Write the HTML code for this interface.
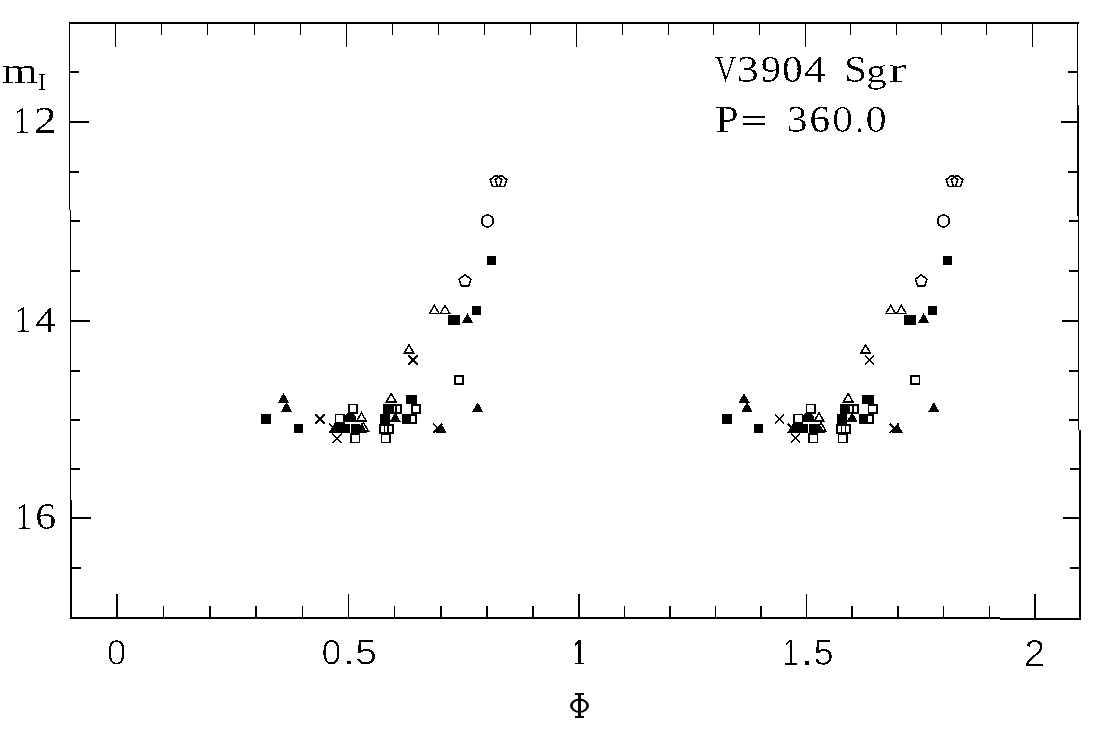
<!DOCTYPE html>
<html><head><meta charset="utf-8"><style>
html,body{margin:0;padding:0;background:#fff;}
svg{display:block;}
text{-webkit-font-smoothing:antialiased;}

.serif{font-family:"Liberation Serif",serif;fill:#000;}
.sans{font-family:"Liberation Sans",sans-serif;fill:#000;}
.o{fill:none;stroke:#000;}
</style></head><body>
<svg width="1110" height="730" viewBox="0 0 1110 730">
<rect width="1110" height="730" fill="#fff"/>
<g fill="#000" shape-rendering="crispEdges">
<rect x="69.00" y="22.00" width="1009.50" height="2.00"/>
<rect x="70.00" y="617.00" width="930.00" height="2.00"/>
<rect x="1000.00" y="617.50" width="81.00" height="2.00"/>
<rect x="69.00" y="22.00" width="1.30" height="188.00"/>
<rect x="69.60" y="210.00" width="1.40" height="290.00"/>
<rect x="70.40" y="500.00" width="1.60" height="119.00"/>
<rect x="1077.00" y="22.00" width="1.40" height="83.00"/>
<rect x="1077.00" y="105.00" width="2.00" height="111.00"/>
<rect x="1077.60" y="216.00" width="1.60" height="214.00"/>
<rect x="1078.60" y="430.00" width="2.20" height="190.00"/>
<rect x="115.00" y="22.00" width="1.10" height="24.70"/>
<rect x="116.40" y="594.00" width="1.60" height="25.00"/>
<rect x="161.00" y="22.00" width="1.10" height="12.80"/>
<rect x="162.68" y="606.00" width="1.60" height="13.00"/>
<rect x="207.00" y="22.00" width="1.10" height="12.80"/>
<rect x="208.96" y="606.00" width="1.60" height="13.00"/>
<rect x="254.00" y="22.00" width="1.10" height="12.80"/>
<rect x="255.24" y="606.00" width="1.60" height="13.00"/>
<rect x="300.00" y="22.00" width="1.10" height="12.80"/>
<rect x="301.52" y="606.00" width="1.60" height="13.00"/>
<rect x="346.00" y="22.00" width="1.10" height="24.70"/>
<rect x="347.80" y="594.00" width="1.60" height="25.00"/>
<rect x="392.00" y="22.00" width="1.10" height="12.80"/>
<rect x="393.88" y="606.00" width="1.60" height="13.00"/>
<rect x="438.00" y="22.00" width="1.10" height="12.80"/>
<rect x="439.96" y="606.00" width="1.60" height="13.00"/>
<rect x="484.00" y="22.00" width="1.10" height="12.80"/>
<rect x="486.04" y="606.00" width="1.60" height="13.00"/>
<rect x="530.00" y="22.00" width="1.10" height="12.80"/>
<rect x="532.12" y="606.00" width="1.60" height="13.00"/>
<rect x="576.00" y="22.00" width="1.10" height="24.70"/>
<rect x="578.20" y="594.00" width="1.60" height="25.00"/>
<rect x="622.00" y="22.00" width="1.10" height="12.80"/>
<rect x="623.72" y="606.00" width="1.60" height="13.00"/>
<rect x="668.00" y="22.00" width="1.10" height="12.80"/>
<rect x="669.24" y="606.00" width="1.60" height="13.00"/>
<rect x="713.00" y="22.00" width="1.10" height="12.80"/>
<rect x="714.76" y="606.00" width="1.60" height="13.00"/>
<rect x="759.00" y="22.00" width="1.10" height="12.80"/>
<rect x="760.28" y="606.00" width="1.60" height="13.00"/>
<rect x="805.00" y="22.00" width="1.10" height="24.70"/>
<rect x="805.80" y="594.00" width="1.60" height="25.00"/>
<rect x="850.00" y="22.00" width="1.10" height="12.80"/>
<rect x="851.48" y="606.00" width="1.60" height="13.00"/>
<rect x="896.00" y="22.00" width="1.10" height="12.80"/>
<rect x="897.16" y="606.00" width="1.60" height="13.00"/>
<rect x="941.00" y="22.00" width="1.10" height="12.80"/>
<rect x="942.84" y="606.00" width="1.60" height="13.00"/>
<rect x="986.00" y="22.00" width="1.10" height="12.80"/>
<rect x="988.52" y="606.00" width="1.60" height="13.00"/>
<rect x="1032.00" y="22.00" width="1.10" height="24.70"/>
<rect x="1034.20" y="594.00" width="1.60" height="25.00"/>
<rect x="69.00" y="71.00" width="9.50" height="2.00"/>
<rect x="1068.30" y="71.00" width="10.00" height="2.00"/>
<rect x="69.00" y="121.00" width="19.50" height="2.00"/>
<rect x="1060.80" y="121.00" width="17.50" height="2.00"/>
<rect x="69.00" y="171.00" width="9.50" height="2.00"/>
<rect x="1068.30" y="171.00" width="10.00" height="2.00"/>
<rect x="70.00" y="220.00" width="9.50" height="2.00"/>
<rect x="1069.00" y="220.00" width="10.00" height="2.00"/>
<rect x="70.00" y="270.00" width="9.50" height="2.00"/>
<rect x="1069.00" y="270.00" width="10.00" height="2.00"/>
<rect x="70.00" y="320.00" width="19.50" height="2.00"/>
<rect x="1061.50" y="320.00" width="17.50" height="2.00"/>
<rect x="70.00" y="370.00" width="9.50" height="2.00"/>
<rect x="1069.00" y="370.00" width="10.00" height="2.00"/>
<rect x="70.00" y="419.00" width="9.50" height="2.00"/>
<rect x="1069.00" y="419.00" width="10.00" height="2.00"/>
<rect x="70.00" y="468.00" width="9.50" height="2.00"/>
<rect x="1070.00" y="468.00" width="10.00" height="2.00"/>
<rect x="71.00" y="517.00" width="19.50" height="2.00"/>
<rect x="1062.50" y="517.00" width="17.50" height="2.00"/>
<rect x="71.00" y="567.00" width="9.50" height="2.00"/>
<rect x="1070.00" y="567.00" width="10.00" height="2.00"/>
<path class="o" stroke-width="1.6" d="M496.00,175.39 L501.81,179.61 L499.59,186.44 L492.41,186.44 L490.19,179.61Z"/>
<path class="o" stroke-width="1.6" d="M501.00,175.39 L506.81,179.61 L504.59,186.44 L497.41,186.44 L495.19,179.61Z"/>
<circle class="o" cx="487.50" cy="221.00" r="5.90" stroke-width="1.8"/>
<rect x="486.75" y="255.75" width="9.50" height="9.50"/>
<path class="o" stroke-width="1.6" d="M465.00,274.89 L470.81,279.11 L468.59,285.94 L461.41,285.94 L459.19,279.11Z"/>
<path fill-rule="evenodd" d="M434.30,304.00 L440.40,314.40 L428.20,314.40Z M434.30,306.90 L437.85,312.95 L430.75,312.95Z"/>
<path fill-rule="evenodd" d="M445.00,304.00 L451.10,314.40 L438.90,314.40Z M445.00,306.90 L448.55,312.95 L441.45,312.95Z"/>
<rect x="447.95" y="315.25" width="9.50" height="9.50"/>
<rect x="450.55" y="315.25" width="9.50" height="9.50"/>
<polygon points="467.50,313.20 473.15,323.00 461.85,323.00"/>
<rect x="471.75" y="305.55" width="9.50" height="9.50"/>
<path fill-rule="evenodd" d="M409.00,343.50 L415.10,353.90 L402.90,353.90Z M409.00,346.40 L412.55,352.45 L405.45,352.45Z"/>
<polygon points="408.97,354.83 418.17,364.03 417.03,365.17 407.83,355.97"/>
<polygon points="417.03,354.83 418.17,355.97 408.97,365.17 407.83,364.03"/>
<rect class="o" x="454.80" y="375.80" width="8.40" height="8.40" stroke-width="1.6"/>
<rect x="261.25" y="414.25" width="9.50" height="9.50"/>
<polygon points="283.50,393.00 289.15,402.80 277.85,402.80"/>
<polygon points="286.50,402.00 292.15,411.80 280.85,411.80"/>
<rect x="293.75" y="423.55" width="9.50" height="9.50"/>
<polygon points="315.97,413.83 325.17,423.03 324.03,424.17 314.83,414.97"/>
<polygon points="324.03,413.83 325.17,414.97 315.97,424.17 314.83,423.03"/>
<polygon points="332.97,433.03 342.17,442.23 341.03,443.37 331.83,434.17"/>
<polygon points="341.03,433.03 342.17,434.17 332.97,443.37 331.83,442.23"/>
<polygon points="329.67,423.13 338.87,432.33 337.73,433.47 328.53,424.27"/>
<polygon points="337.73,423.13 338.87,424.27 329.67,433.47 328.53,432.33"/>
<polygon points="334.70,422.90 340.35,432.70 329.05,432.70"/>
<rect x="335.25" y="423.55" width="9.50" height="9.50"/>
<rect x="340.25" y="423.65" width="9.50" height="9.50"/>
<rect x="350.85" y="423.65" width="9.50" height="9.50"/>
<polygon points="347.00,413.20 353.40,413.20 356.20,416.80 356.20,422.00 345.30,422.00 345.30,415.80"/>
<rect class="o" x="335.60" y="414.50" width="8.40" height="8.40" stroke-width="1.6"/>
<rect class="o" x="348.80" y="404.50" width="8.40" height="8.40" stroke-width="1.6"/>
<path fill-rule="evenodd" d="M361.50,411.40 L367.60,421.80 L355.40,421.80Z M361.50,414.30 L365.05,420.35 L357.95,420.35Z"/>
<polygon points="361.50,423.00 367.15,432.80 355.85,432.80"/>
<path fill-rule="evenodd" d="M363.50,421.20 L369.60,431.60 L357.40,431.60Z M363.50,424.10 L367.05,430.15 L359.95,430.15Z"/>
<rect class="o" x="351.30" y="434.30" width="8.40" height="8.40" stroke-width="1.6"/>
<path fill-rule="evenodd" d="M391.20,392.10 L397.30,402.50 L385.10,402.50Z M391.20,395.00 L394.75,401.05 L387.65,401.05Z"/>
<rect x="382.75" y="404.25" width="9.50" height="9.50"/>
<rect class="o" x="387.80" y="404.80" width="8.40" height="8.40" stroke-width="1.6"/>
<rect class="o" x="392.80" y="404.80" width="8.40" height="8.40" stroke-width="1.6"/>
<rect x="380.25" y="414.05" width="9.50" height="9.50"/>
<polygon points="395.20,412.20 400.85,422.00 389.55,422.00"/>
<rect class="o" x="379.80" y="424.80" width="8.40" height="8.40" stroke-width="1.6"/>
<rect class="o" x="384.50" y="424.80" width="8.40" height="8.40" stroke-width="1.6"/>
<rect class="o" x="381.60" y="434.30" width="8.40" height="8.40" stroke-width="1.6"/>
<rect x="405.75" y="394.55" width="9.50" height="9.50"/>
<rect x="407.75" y="394.55" width="9.50" height="9.50"/>
<rect class="o" x="411.80" y="404.80" width="8.40" height="8.40" stroke-width="1.6"/>
<rect x="401.95" y="414.25" width="9.50" height="9.50"/>
<rect class="o" x="407.80" y="414.80" width="8.40" height="8.40" stroke-width="1.6"/>
<polygon points="477.70,402.20 483.35,412.00 472.05,412.00"/>
<polygon points="441.00,423.10 446.65,432.90 435.35,432.90"/>
<polygon points="433.77,423.13 442.97,432.33 441.83,433.47 432.63,424.27"/>
<polygon points="441.83,423.13 442.97,424.27 433.77,433.47 432.63,432.33"/>
<path class="o" stroke-width="1.6" d="M952.00,175.39 L957.81,179.61 L955.59,186.44 L948.41,186.44 L946.19,179.61Z"/>
<path class="o" stroke-width="1.6" d="M957.00,175.39 L962.81,179.61 L960.59,186.44 L953.41,186.44 L951.19,179.61Z"/>
<circle class="o" cx="943.50" cy="221.00" r="5.90" stroke-width="1.8"/>
<rect x="942.75" y="255.75" width="9.50" height="9.50"/>
<path class="o" stroke-width="1.6" d="M921.17,274.89 L926.98,279.11 L924.76,285.94 L917.58,285.94 L915.36,279.11Z"/>
<path fill-rule="evenodd" d="M890.71,304.00 L896.81,314.40 L884.61,314.40Z M890.71,306.90 L894.26,312.95 L887.16,312.95Z"/>
<path fill-rule="evenodd" d="M901.33,304.00 L907.43,314.40 L895.23,314.40Z M901.33,306.90 L904.88,312.95 L897.78,312.95Z"/>
<rect x="904.22" y="315.25" width="9.50" height="9.50"/>
<rect x="906.80" y="315.25" width="9.50" height="9.50"/>
<polygon points="923.65,313.20 929.30,323.00 918.00,323.00"/>
<rect x="927.83" y="305.55" width="9.50" height="9.50"/>
<path fill-rule="evenodd" d="M865.62,343.50 L871.72,353.90 L859.52,353.90Z M865.62,346.40 L869.17,352.45 L862.07,352.45Z"/>
<polygon points="865.54,354.83 874.74,364.03 873.61,365.17 864.41,355.97"/>
<polygon points="873.61,354.83 874.74,355.97 865.54,365.17 864.41,364.03"/>
<rect class="o" x="911.02" y="375.80" width="8.40" height="8.40" stroke-width="1.6"/>
<rect x="722.25" y="414.25" width="9.50" height="9.50"/>
<polygon points="744.07,393.00 749.72,402.80 738.42,402.80"/>
<polygon points="747.00,402.00 752.65,411.80 741.35,411.80"/>
<rect x="753.95" y="423.55" width="9.50" height="9.50"/>
<polygon points="775.46,413.83 784.66,423.03 783.53,424.17 774.33,414.97"/>
<polygon points="783.53,413.83 784.66,414.97 775.46,424.17 774.33,423.03"/>
<polygon points="791.43,433.03 800.63,442.23 799.50,443.37 790.30,434.17"/>
<polygon points="799.50,433.03 800.63,434.17 791.43,443.37 790.30,442.23"/>
<polygon points="788.33,423.13 797.53,432.33 796.40,433.47 787.20,424.27"/>
<polygon points="796.40,423.13 797.53,424.27 788.33,433.47 787.20,432.33"/>
<polygon points="793.31,422.90 798.96,432.70 787.66,432.70"/>
<rect x="793.53" y="423.55" width="9.50" height="9.50"/>
<rect x="798.23" y="423.65" width="9.50" height="9.50"/>
<rect x="808.50" y="423.65" width="9.50" height="9.50"/>
<polygon points="804.74,413.20 811.14,413.20 813.94,416.80 813.94,422.00 803.04,422.00 803.04,415.80"/>
<rect class="o" x="793.90" y="414.50" width="8.40" height="8.40" stroke-width="1.6"/>
<rect class="o" x="806.50" y="404.50" width="8.40" height="8.40" stroke-width="1.6"/>
<path fill-rule="evenodd" d="M819.04,411.40 L825.14,421.80 L812.94,421.80Z M819.04,414.30 L822.59,420.35 L815.49,420.35Z"/>
<polygon points="819.04,423.00 824.69,432.80 813.39,432.80"/>
<path fill-rule="evenodd" d="M821.00,421.20 L827.10,431.60 L814.90,431.60Z M821.00,424.10 L824.55,430.15 L817.45,430.15Z"/>
<rect class="o" x="808.95" y="434.30" width="8.40" height="8.40" stroke-width="1.6"/>
<path fill-rule="evenodd" d="M848.16,392.10 L854.26,402.50 L842.06,402.50Z M848.16,395.00 L851.71,401.05 L844.62,401.05Z"/>
<rect x="839.79" y="404.25" width="9.50" height="9.50"/>
<rect class="o" x="844.75" y="404.80" width="8.40" height="8.40" stroke-width="1.6"/>
<rect class="o" x="849.65" y="404.80" width="8.40" height="8.40" stroke-width="1.6"/>
<rect x="837.33" y="414.05" width="9.50" height="9.50"/>
<polygon points="852.09,412.20 857.74,422.00 846.44,422.00"/>
<rect class="o" x="836.90" y="424.80" width="8.40" height="8.40" stroke-width="1.6"/>
<rect class="o" x="841.51" y="424.80" width="8.40" height="8.40" stroke-width="1.6"/>
<rect class="o" x="838.67" y="434.30" width="8.40" height="8.40" stroke-width="1.6"/>
<rect x="862.35" y="394.55" width="9.50" height="9.50"/>
<rect x="864.33" y="394.55" width="9.50" height="9.50"/>
<rect class="o" x="868.35" y="404.80" width="8.40" height="8.40" stroke-width="1.6"/>
<rect x="858.61" y="414.25" width="9.50" height="9.50"/>
<rect class="o" x="864.38" y="414.80" width="8.40" height="8.40" stroke-width="1.6"/>
<polygon points="933.77,402.20 939.42,412.00 928.12,412.00"/>
<polygon points="897.36,423.10 903.01,432.90 891.71,432.90"/>
<polygon points="890.15,423.13 899.35,432.33 898.22,433.47 889.02,424.27"/>
<polygon points="898.22,423.13 899.35,424.27 890.15,433.47 889.02,432.33"/>

<rect x="575" y="692.8" width="9" height="2"/>
<rect x="575" y="716.3" width="9" height="2"/>
<rect x="577.7" y="692.8" width="3" height="25.4"/>
<path fill-rule="evenodd" shape-rendering="geometricPrecision" d="M570,705.75 A9.5,7.15 0 1,0 589,705.75 A9.5,7.15 0 1,0 570,705.75 Z M572.7,705.75 A6.8,5.2 0 1,0 586.3,705.75 A6.8,5.2 0 1,0 572.7,705.75 Z"/>

</g>
<g class="tg" fill="#000" shape-rendering="crispEdges"><path fill-rule="evenodd" d="M23.34,108.20 23.20,108.20 23.64,107.90 22.84,107.90 16.76,112.01 16.76,112.99 20.97,111.19 20.97,111.68 21.27,111.55 21.27,130.93 20.97,130.97 20.97,131.42 16.70,131.92 16.70,132.90 21.42,132.90 21.42,132.60 23.19,132.60 23.19,132.90 27.90,132.90 27.90,131.92 23.64,131.42 23.64,130.97 23.34,130.93ZM21.42,109.22 21.42,108.93 21.56,109.13Z"/>
<path fill-rule="evenodd" d="M53.75,130.36 39.15,130.36 39.54,130.06 38.80,130.06 39.53,129.51 40.24,128.97 40.95,128.45 41.64,127.95 42.31,127.46 42.97,126.98 44.43,125.93 45.75,124.97 46.04,124.75 45.83,124.53 46.74,123.84 47.76,123.04 48.63,122.32 49.35,121.69 49.56,121.90 50.20,121.30 50.77,120.69 51.29,120.08 51.07,119.89 51.13,119.81 51.38,119.97 51.76,119.47 52.16,118.86 52.51,118.25 52.81,117.63 52.54,117.51 52.76,116.91 52.94,116.29 53.07,115.67 53.37,115.70 53.45,115.03 53.48,114.35 53.41,113.37 53.20,112.45 52.86,111.62 52.39,110.87 52.05,110.49 51.94,110.54 52.14,111.04 51.59,110.42 51.78,110.19 51.03,109.59 50.35,109.19 50.20,109.45 50.02,109.34 49.34,109.06 49.45,108.78 49.13,108.65 47.98,108.32 46.70,108.09 46.65,108.08 46.59,108.38 45.78,108.30 45.92,108.01 45.28,107.95 43.73,107.90 42.76,107.92 41.72,107.99 40.98,108.06 41.07,108.35 40.65,108.40 39.49,108.55 38.25,108.75 37.19,108.94 37.19,113.15 38.12,113.15 38.68,110.97 38.68,111.11 38.99,110.98 39.13,110.43 39.45,110.28 39.79,110.15 40.15,110.03 40.52,109.91 40.91,109.81 41.32,109.72 41.73,109.63 42.13,109.57 42.54,109.52 42.94,109.48 43.33,109.46 43.73,109.45 44.67,109.48 45.52,109.59 46.27,109.76 46.94,110.01 47.51,110.32 47.99,110.70 48.39,111.15 48.72,111.67 48.97,112.24 49.15,112.88 49.16,112.96 49.44,112.81 49.45,112.82 49.56,113.56 49.60,114.35 49.57,115.17 49.56,115.39 49.26,115.32 49.21,115.93 49.10,116.67 48.94,117.38 48.74,118.06 48.49,118.70 48.19,119.33 47.84,119.96 47.42,120.58 46.95,121.19 46.42,121.79 45.83,122.39 45.15,123.02 44.35,123.71 43.44,124.46 42.42,125.27 41.27,126.14 40.01,127.07 35.90,130.19 35.90,130.51 36.20,130.51 36.20,132.60 53.75,132.60Z"/>
<path fill-rule="evenodd" d="M24.37,307.20 23.94,307.20 22.40,308.22 22.40,307.86 17.66,311.01 17.66,311.99 21.95,310.19 21.95,310.68 22.25,310.55 22.25,329.93 21.95,329.97 21.95,330.42 17.60,330.92 17.60,331.90 22.40,331.90 22.40,331.60 24.22,331.60 24.22,331.90 29.00,331.90 29.00,330.92 24.67,330.42 24.67,329.97 24.37,329.93Z"/>
<path fill-rule="evenodd" d="M54.70,324.43 51.07,324.43 51.07,308.30 49.22,308.30 46.48,311.72 46.09,311.72 36.00,324.31 36.00,324.58 36.30,324.58 36.30,326.37 48.23,326.37 48.23,331.60 51.07,331.60 51.07,326.37 54.70,326.37ZM38.59,324.43 38.83,324.13 38.26,324.13 47.84,312.17 47.93,312.17 47.93,312.76 48.23,312.39 48.23,324.43Z"/>
<path fill-rule="evenodd" d="M25.27,504.30 25.11,504.30 25.56,504.00 24.75,504.00 18.56,508.09 18.56,509.06 22.85,507.28 22.85,507.77 23.15,507.64 23.15,526.94 22.85,526.97 22.85,527.43 18.50,527.92 18.50,528.90 23.30,528.90 23.30,528.60 25.12,528.60 25.12,528.90 29.90,528.90 29.90,527.92 25.57,527.43 25.57,526.97 25.27,526.94Z"/>
<path fill-rule="evenodd" d="M54.49,519.05 54.24,518.17 53.88,517.38 53.43,516.69 52.87,516.07 52.22,515.55 51.47,515.12 50.62,514.79 49.68,514.54 48.64,514.40 47.49,514.35 47.04,514.36 47.15,514.06 46.36,514.09 45.23,514.22 44.10,514.44 42.98,514.74 41.85,515.13 40.73,515.61 40.76,515.11 40.45,515.24 40.53,514.00 40.71,512.53 40.98,511.19 41.34,509.97 41.79,508.89 42.33,507.93 42.72,507.42 42.91,507.66 43.18,507.31 43.85,506.67 44.60,506.17 45.42,505.81 46.31,505.60 47.28,505.53 47.60,505.53 47.93,505.55 48.27,505.59 48.63,505.64 48.99,505.70 49.37,505.77 49.75,505.86 50.09,505.94 50.41,506.04 50.71,506.13 50.97,506.24 51.21,506.34 51.37,506.87 51.72,507.00 52.16,508.53 53.00,508.53 53.00,504.88 52.25,504.74 51.26,504.58 50.27,504.46 49.43,504.38 49.51,504.09 49.30,504.07 48.29,504.02 47.28,504.00 46.28,504.04 45.31,504.17 44.68,504.31 44.88,504.57 44.47,504.66 43.61,504.94 42.79,505.30 42.02,505.74 41.29,506.26 40.61,506.85 40.00,507.51 39.44,508.25 38.93,509.07 38.48,509.96 38.09,510.91 37.77,511.93 37.52,513.01 37.34,514.15 37.24,515.35 37.20,516.61 37.27,518.51 37.47,520.25 37.81,521.83 38.28,523.25 38.88,524.51 39.61,525.62 40.46,526.56 41.43,527.33 42.52,527.93 43.73,528.35 44.46,528.50 44.25,528.76 45.02,528.91 46.52,529.00 47.84,528.94 48.44,528.86 48.29,528.67 48.39,528.56 48.99,528.48 50.06,528.20 51.02,527.81 51.87,527.32 52.61,526.72 53.25,526.02 53.77,525.22 54.17,524.34 54.46,523.35 54.64,522.26 54.70,521.08 54.65,520.02ZM41.87,525.05 41.42,524.04 41.05,522.89 40.77,521.57 40.57,520.11 40.45,518.48 40.42,517.24 40.72,517.16 40.71,516.70 41.76,516.42 42.79,516.20 43.80,516.02 44.80,515.89 45.77,515.82 46.73,515.79 47.46,515.83 48.13,515.94 48.73,516.12 49.26,516.38 49.72,516.71 49.88,516.88 50.00,516.58 50.34,516.93 50.70,517.46 50.98,518.08 51.20,518.78 51.35,519.58 51.44,520.46 51.47,521.42 51.44,522.49 51.35,523.45 51.19,524.32 50.96,525.08 50.68,525.71 50.46,525.46 50.40,525.61 50.06,526.14 49.65,526.57 49.16,526.93 48.59,527.21 47.95,527.41 47.23,527.53 46.44,527.56 45.52,527.49 44.68,527.27 43.92,526.90 43.25,526.38 42.65,525.72 42.39,525.31 42.18,525.54Z"/>
<path fill-rule="evenodd" d="M8.87,66.45 6.09,66.45 6.09,66.15 2.97,66.15 2.97,66.95 5.64,67.40 5.64,67.86 5.94,67.91 5.94,81.24 5.64,81.29 5.64,81.75 2.97,82.19 2.97,83.00 6.09,83.00 6.09,82.70 8.91,82.70 8.91,83.00 12.52,83.00 12.52,82.19 9.36,81.75 9.36,81.29 9.06,81.25 9.06,68.93 9.36,68.88 9.36,68.42 10.31,68.27 11.21,68.14 12.05,68.04 12.85,67.96 13.58,67.92 14.27,67.91 14.88,67.93 15.43,67.99 15.94,68.10 16.21,68.20 16.23,67.89 16.50,67.98 16.94,68.20 17.32,68.47 17.65,68.79 17.91,69.15 18.12,69.56 18.27,70.00 18.35,70.48 18.38,70.98 18.38,81.25 18.08,81.29 18.08,81.75 14.96,82.19 14.96,83.00 18.53,83.00 18.53,82.70 21.35,82.70 21.35,83.00 24.96,83.00 24.96,82.19 21.80,81.75 21.80,81.29 21.50,81.25 21.50,70.67 21.49,70.30 21.46,69.95 21.41,69.60 21.34,69.27 21.27,69.01 21.57,68.97 21.54,68.86 21.42,68.53 21.58,68.51 21.76,68.48 21.95,68.45 22.15,68.42 22.37,68.38 22.60,68.34 22.83,68.31 23.07,68.27 23.32,68.23 23.57,68.20 23.82,68.17 24.08,68.14 24.33,68.11 24.59,68.08 24.85,68.05 25.11,68.03 25.37,68.00 25.62,67.98 25.88,67.95 26.12,67.94 26.35,67.92 26.57,67.91 26.78,67.91 26.98,67.91 28.08,67.99 28.32,68.06 28.34,67.75 29.09,67.97 29.87,68.45 30.43,69.12 30.76,69.98 30.87,70.97 30.87,81.25 30.57,81.29 30.57,81.75 27.43,82.19 27.43,83.00 31.02,83.00 31.02,82.70 33.84,82.70 33.84,83.00 37.00,83.00 37.00,82.19 34.29,81.75 34.29,81.29 33.99,81.24 33.99,70.68 33.84,69.22 33.42,68.05 32.74,67.16 31.77,66.53 30.49,66.13 28.90,66.00 28.39,66.02 27.84,66.06 27.23,66.14 26.58,66.26 25.88,66.40 25.14,66.58 24.99,66.62 24.98,66.31 24.31,66.49 23.58,66.71 22.89,66.93 22.23,67.16 21.61,67.40 21.02,67.65 20.78,67.33 20.74,67.28 20.45,67.41 20.30,67.25 20.02,67.01 19.70,66.80 19.35,66.61 18.95,66.45 18.53,66.31 18.09,66.20 17.64,66.11 17.17,66.05 16.69,66.01 16.20,66.00 15.72,66.01 15.22,66.06 14.70,66.13 14.14,66.23 13.56,66.35 12.96,66.51 12.38,66.68 12.38,66.36 12.26,66.40 11.65,66.59 11.05,66.80 10.46,67.02 9.88,67.26 9.31,67.51 9.25,67.05 8.97,67.17Z"/>
<path fill-rule="evenodd" d="M43.11,89.05 43.11,74.99 45.10,74.68 45.10,74.05 38.90,74.05 38.90,74.68 40.89,74.99 40.89,89.05 38.90,89.37 38.90,90.00 45.10,90.00 45.10,89.37Z"/>
<path fill-rule="evenodd" d="M720.10,58.74 720.40,58.68 720.26,58.25 722.92,57.77 722.92,56.80 719.30,56.80 719.40,57.10 717.22,57.10 717.12,56.80 714.90,56.80 714.90,57.77 717.13,58.25 717.30,58.75 717.64,58.82 725.41,81.70 725.74,81.70 726.65,78.98 726.81,79.45 733.93,58.25 736.10,57.77 736.10,56.80 729.65,56.80 729.65,57.77 732.25,58.25 726.26,76.38 726.02,75.66 725.87,76.14Z"/>
<path fill-rule="evenodd" d="M756.95,74.11 756.80,73.34 756.55,72.64 756.21,72.01 755.77,71.44 755.23,70.92 754.58,70.47 753.81,70.07 752.92,69.73 751.91,69.45 750.78,69.23 750.47,69.19 750.32,69.06 750.43,68.89 749.56,68.78 750.54,68.62 750.61,68.61 750.85,68.24 751.36,68.12 752.16,67.85 752.88,67.51 753.53,67.13 754.09,66.68 754.57,66.18 754.96,65.62 755.27,65.02 755.49,64.35 755.62,63.63 755.66,62.86 755.42,61.09 754.68,59.67 753.45,58.56 751.69,57.76 749.40,57.27 748.56,57.22 748.69,56.92 746.56,56.80 746.04,56.80 745.53,56.82 745.00,56.84 744.48,56.87 743.96,56.91 743.78,56.92 743.88,57.22 743.47,57.25 742.93,57.31 742.36,57.39 741.76,57.49 741.13,57.60 740.46,57.73 740.00,57.83 740.00,62.01 740.91,62.01 741.43,59.96 741.77,59.82 741.91,59.31 742.23,59.17 742.58,59.04 742.94,58.91 743.32,58.80 743.72,58.70 744.14,58.60 744.56,58.52 744.97,58.46 745.38,58.40 745.78,58.37 746.17,58.35 746.56,58.34 747.45,58.37 748.26,58.46 748.98,58.62 749.62,58.84 750.17,59.12 750.64,59.46 751.03,59.88 751.17,60.08 751.34,59.80 751.62,60.22 751.88,60.83 752.07,61.50 752.18,62.25 752.22,63.06 752.19,63.85 752.08,64.58 751.91,65.24 751.72,65.69 751.49,65.46 751.40,65.70 751.10,66.19 750.74,66.62 750.31,66.98 749.81,67.28 749.24,67.52 748.59,67.71 747.88,67.83 747.09,67.90 743.96,68.06 743.96,69.56 747.09,69.71 748.10,69.79 749.02,69.92 749.84,70.12 750.58,70.38 751.22,70.71 751.77,71.09 752.23,71.54 752.61,72.06 752.65,72.15 752.86,71.90 752.86,71.90 753.18,72.52 753.40,73.21 753.53,73.96 753.58,74.76 753.53,75.77 753.39,76.69 753.15,77.51 752.81,78.24 752.37,78.87 752.26,78.97 752.10,78.71 751.64,79.16 751.04,79.56 750.34,79.89 749.55,80.15 748.65,80.33 747.66,80.44 746.56,80.48 746.11,80.47 745.64,80.45 745.16,80.41 744.66,80.35 744.16,80.28 743.64,80.19 743.14,80.09 742.68,79.98 742.26,79.87 741.87,79.75 741.53,79.62 741.23,79.49 741.08,78.98 740.73,78.85 740.06,76.51 740.36,76.46 740.24,76.05 738.80,76.05 738.83,76.71 739.13,76.66 739.33,80.96 740.34,81.16 741.61,81.35 742.90,81.50 743.12,81.52 743.04,81.82 744.19,81.91 745.54,81.98 746.91,82.00 748.50,81.95 749.84,81.81 749.69,81.52 749.93,81.50 751.24,81.24 752.43,80.89 753.49,80.43 754.42,79.88 755.21,79.25 755.86,78.54 756.36,77.76 756.71,76.91 756.93,75.97 757.00,74.95ZM750.09,68.39 749.71,68.52 749.78,68.44Z"/>
<path fill-rule="evenodd" d="M762.71,66.64 762.98,67.54 763.35,68.36 763.82,69.09 764.40,69.74 765.06,70.31 765.81,70.77 766.64,71.12 767.55,71.38 768.55,71.54 769.64,71.59 770.09,71.57 769.97,71.88 770.66,71.85 771.67,71.72 772.68,71.50 773.69,71.20 774.69,70.81 775.68,70.33 775.65,70.85 775.96,70.70 775.88,71.96 775.69,73.45 775.42,74.80 775.06,76.02 774.61,77.11 774.07,78.07 773.67,78.59 773.48,78.35 773.22,78.69 772.54,79.34 771.78,79.84 770.93,80.19 770.01,80.41 769.01,80.48 768.65,80.47 768.29,80.46 767.94,80.42 767.58,80.38 767.23,80.33 766.88,80.26 766.54,80.19 766.22,80.11 765.93,80.03 765.66,79.94 765.41,79.86 765.19,79.77 764.51,77.13 763.24,77.13 763.24,81.38 764.14,81.57 765.07,81.72 766.03,81.84 767.02,81.93 768.04,81.98 769.09,82.00 770.64,81.91 771.53,81.74 771.34,81.47 772.00,81.35 773.28,80.91 774.43,80.29 775.47,79.51 776.39,78.54 777.18,77.41 777.83,76.11 778.34,74.65 778.71,73.03 778.93,71.24 779.00,69.29 778.94,67.25 778.77,65.41 778.49,63.77 778.09,62.31 777.58,61.06 776.97,59.99 776.24,59.11 775.39,58.39 774.41,57.83 773.29,57.43 772.43,57.26 772.22,56.99 772.28,56.92 772.08,56.88 770.65,56.80 769.36,56.86 769.00,56.91 769.18,57.18 768.23,57.32 767.17,57.59 766.22,57.97 765.37,58.46 764.61,59.05 763.97,59.74 763.44,60.52 763.03,61.39 762.74,62.35 762.56,63.41 762.50,64.57 762.55,65.65ZM774.79,60.77 775.16,61.76 775.47,62.91 775.70,64.23 775.87,65.70 775.97,67.34 775.99,68.57 775.69,68.67 775.70,69.14 774.85,69.44 774.00,69.68 773.15,69.87 772.30,70.01 771.46,70.09 770.61,70.11 769.83,70.08 769.11,69.97 768.47,69.78 767.90,69.52 767.40,69.19 767.29,69.08 767.18,69.39 766.75,68.98 766.36,68.45 766.05,67.84 765.80,67.16 765.63,66.39 765.53,65.56 765.50,64.63 765.64,62.64 766.06,60.99 766.78,59.67 766.80,59.65 766.97,59.90 767.01,59.88 767.02,59.86 767.97,58.97 769.20,58.44 770.69,58.27 771.53,58.34 772.29,58.56 772.97,58.92 773.57,59.43 774.08,60.09 774.34,60.56 774.56,60.35Z"/>
<path fill-rule="evenodd" d="M800.53,67.23 800.83,67.20 800.66,65.54 800.48,64.56 800.18,64.61 800.07,63.97 799.73,62.79 800.01,62.68 799.94,62.43 799.40,61.12 798.73,59.98 797.95,59.01 797.06,58.21 796.06,57.60 794.95,57.15 794.79,57.12 794.71,57.29 795.13,57.55 794.86,57.44 793.95,57.24 793.90,57.18 794.09,56.97 793.73,56.89 792.39,56.80 791.01,56.89 790.07,57.09 790.34,57.34 789.83,57.45 788.74,57.87 788.48,58.03 788.68,57.86 788.51,57.67 787.59,58.23 786.70,59.03 785.93,60.02 785.28,61.17 784.77,62.42 785.03,62.53 785.11,62.39 785.03,62.58 784.88,63.10 784.59,63.02 784.33,63.95 784.04,65.58 783.98,66.11 784.28,66.14 784.16,67.38 784.12,68.73 783.82,68.73 783.80,69.31 783.86,71.29 783.98,72.51 784.28,72.48 784.33,73.07 784.35,73.19 784.06,73.24 784.33,74.77 784.75,76.26 785.04,76.99 785.33,76.91 785.55,77.46 785.68,77.70 785.51,77.47 785.48,77.48 785.48,77.95 785.93,78.75 786.69,79.75 787.57,80.56 787.78,80.33 788.71,80.92 789.76,81.35 790.52,81.52 790.29,81.78 790.90,81.91 792.23,82.00 794.88,81.65 797.05,80.59 798.73,78.83 799.78,76.69 799.51,76.56 799.65,76.26 800.16,74.03 800.45,74.09 800.66,73.19 800.90,69.31 800.84,67.35 800.54,67.36ZM797.44,72.93 797.27,74.47 797.03,75.84 797.00,75.92 796.71,75.85 796.43,76.93 796.29,77.30 796.57,77.41 796.47,77.67 796.21,77.49 796.05,77.91 795.61,78.72 795.09,79.38 794.49,79.90 793.81,80.26 793.06,80.49 792.23,80.56 791.43,80.49 790.70,80.28 790.05,79.93 789.48,79.44 788.99,78.81 788.62,78.14 788.38,78.32 788.29,78.16 787.93,77.18 787.64,76.00 787.46,74.89 787.76,74.86 787.71,74.59 787.55,73.03 787.46,71.27 787.16,71.29 787.16,71.28 787.12,69.31 787.16,67.35 787.19,66.64 787.49,66.66 787.55,65.61 787.71,64.08 787.79,63.57 787.49,63.52 787.63,62.68 787.92,61.53 788.21,60.74 788.46,60.94 788.55,60.70 788.96,59.96 789.46,59.34 790.03,58.87 790.68,58.53 791.42,58.33 792.23,58.26 793.07,58.33 793.83,58.55 794.51,58.91 795.11,59.41 795.63,60.06 796.07,60.85 796.44,61.80 796.74,62.94 796.97,64.26 797.06,65.02 797.36,64.97 797.44,65.73 797.54,67.43 797.55,67.96 797.25,67.96 797.28,69.31 797.26,69.94 797.56,69.94 797.54,71.21ZM794.32,81.42 793.95,81.60 793.93,81.58 794.02,81.46Z"/>
<path fill-rule="evenodd" d="M824.90,74.11 821.04,74.11 821.04,57.10 819.04,57.10 816.10,60.74 815.71,60.74 805.00,74.00 805.00,74.26 805.30,74.26 805.30,76.19 817.99,76.19 817.99,81.70 821.04,81.70 821.04,76.19 824.90,76.19ZM807.73,74.11 807.98,73.81 807.40,73.81 817.58,61.19 817.69,61.19 817.69,61.78 817.99,61.41 817.99,74.11Z"/>
<path fill-rule="evenodd" d="M847.14,80.48 847.51,80.61 848.11,80.79 848.74,80.95 849.40,81.10 850.08,81.23 850.79,81.36 851.51,81.46 852.23,81.55 852.39,81.56 852.29,81.85 852.93,81.91 853.66,81.96 854.38,81.99 855.11,82.00 856.55,81.95 857.88,81.78 858.21,81.71 858.03,81.44 859.00,81.22 860.06,80.86 861.00,80.39 861.82,79.82 862.51,79.15 863.08,78.41 863.53,77.58 863.84,76.66 864.04,75.65 864.10,74.54 864.08,73.99 864.03,73.48 863.95,72.99 863.84,72.54 863.69,72.11 863.52,71.72 863.31,71.35 863.09,71.00 862.84,70.67 862.58,70.35 862.29,70.06 861.98,69.79 861.66,69.53 861.31,69.28 860.96,69.05 860.58,68.84 860.19,68.64 859.79,68.46 859.36,68.28 858.94,68.11 858.51,67.95 858.07,67.79 858.04,67.78 858.13,67.49 857.73,67.36 857.29,67.21 856.85,67.07 856.40,66.93 855.97,66.79 855.53,66.65 855.10,66.51 854.67,66.38 854.26,66.24 853.85,66.09 853.47,65.94 853.41,65.91 853.32,66.20 852.97,66.04 852.60,65.87 852.25,65.68 851.92,65.48 851.60,65.26 851.31,65.03 851.04,64.79 850.79,64.53 850.55,64.25 850.35,63.95 850.18,63.62 850.05,63.27 849.95,62.90 849.90,62.51 849.88,62.09 849.92,61.48 850.06,60.91 850.21,60.57 850.43,60.82 850.56,60.52 850.85,60.09 851.23,59.69 851.70,59.34 852.24,59.03 852.84,58.78 853.51,58.59 854.25,58.45 855.05,58.37 855.91,58.34 856.89,58.38 857.82,58.49 858.69,58.68 859.51,58.94 860.27,59.28 860.98,59.69 861.68,62.70 862.99,62.70 862.99,60.34 862.69,60.17 862.69,57.84 861.68,57.64 860.46,57.45 859.28,57.30 858.16,57.19 858.27,56.90 858.15,56.89 857.01,56.82 855.91,56.80 854.54,56.85 853.26,56.99 852.32,57.17 852.53,57.44 852.17,57.51 851.13,57.82 850.21,58.22 849.38,58.71 848.68,59.28 848.11,59.90 847.67,60.59 847.35,61.34 847.16,62.17 847.10,63.07 847.12,63.60 847.17,64.10 847.25,64.57 847.36,65.01 847.50,65.41 847.68,65.79 847.88,66.15 848.11,66.49 848.35,66.81 848.62,67.11 848.90,67.39 849.21,67.65 849.54,67.89 849.88,68.12 850.24,68.34 850.61,68.54 851.00,68.73 851.40,68.90 851.82,69.07 852.24,69.23 852.67,69.39 853.10,69.54 853.54,69.69 853.98,69.83 854.42,69.97 854.87,70.11 855.30,70.25 855.73,70.39 856.16,70.52 856.59,70.66 857.01,70.81 857.42,70.96 857.82,71.13 858.20,71.31 858.56,71.50 858.91,71.70 859.25,71.91 859.57,72.15 859.86,72.39 860.13,72.66 860.38,72.94 860.61,73.24 860.82,73.57 860.99,73.92 861.12,74.30 861.21,74.71 861.26,75.14 861.28,75.59 861.24,76.37 861.10,77.10 860.86,77.77 860.53,78.39 860.50,78.42 860.30,78.18 860.28,78.22 859.88,78.74 859.40,79.21 858.84,79.61 858.21,79.93 857.51,80.19 856.75,80.37 855.91,80.48 855.01,80.52 854.42,80.50 853.82,80.44 853.22,80.35 852.62,80.22 852.02,80.06 851.42,79.86 850.84,79.63 850.32,79.40 849.86,79.15 849.47,78.89 849.13,78.62 848.85,78.34 848.15,75.02 846.84,75.02 846.84,76.94 847.14,77.25Z"/>
<path fill-rule="evenodd" d="M882.97,69.55 882.73,69.01 882.42,68.54 881.82,67.88 883.95,66.05 884.11,66.31 885.04,65.51 884.33,64.80 883.42,65.18 883.58,65.44 881.09,66.47 880.60,66.35 879.90,66.64 879.68,66.59 879.43,66.54 879.14,66.49 878.83,66.44 878.49,66.40 878.11,66.35 877.74,66.32 877.38,66.28 877.06,66.26 876.75,66.24 876.47,66.23 876.21,66.23 875.01,66.27 874.11,66.36 874.16,66.43 873.95,66.68 872.99,66.87 872.12,67.13 871.36,67.46 870.69,67.87 870.13,68.34 869.67,68.86 869.32,69.44 869.07,70.09 868.91,70.80 868.86,71.58 868.95,72.66 869.20,73.61 869.61,74.42 870.18,75.11 870.92,75.68 871.54,75.98 871.30,76.20 871.73,76.41 870.62,77.45 870.75,77.74 868.87,79.49 868.88,79.61 868.94,79.85 869.03,80.09 869.16,80.33 869.34,80.56 869.56,80.80 869.81,81.02 870.08,81.22 870.36,81.40 870.67,81.56 871.00,81.69 871.18,81.75 871.11,82.04 871.27,82.09 871.06,82.22 870.95,82.64 870.82,82.72 870.29,83.07 869.83,83.40 869.43,83.72 869.11,84.01 868.85,84.29 868.65,84.55 868.48,84.81 868.36,85.07 868.27,85.32 868.22,85.58 868.20,85.83 868.25,86.35 868.40,86.82 868.65,87.26 869.00,87.66 869.47,88.02 870.05,88.35 870.74,88.64 871.54,88.87 872.12,88.99 872.37,89.32 872.35,89.35 872.39,89.35 873.42,89.49 874.55,89.57 875.79,89.60 876.84,89.58 877.83,89.52 878.78,89.42 879.67,89.29 880.50,89.11 881.04,88.96 880.81,88.71 881.20,88.61 881.90,88.36 882.55,88.09 883.13,87.78 883.65,87.45 884.11,87.08 884.50,86.69 884.84,86.27 885.11,85.84 885.33,85.38 885.48,84.89 885.57,84.39 885.60,83.85 885.56,83.28 885.45,82.75 885.26,82.27 885.00,81.83 884.66,81.43 884.25,81.07 883.75,80.76 883.16,80.50 882.48,80.30 881.71,80.15 880.85,80.06 879.90,80.03 874.32,80.03 873.96,80.03 873.61,80.00 873.29,79.97 872.98,79.92 872.69,79.85 872.42,79.77 872.18,79.68 871.97,79.58 871.91,79.55 872.06,79.29 871.96,79.23 871.85,79.14 871.77,79.05 871.73,78.95 873.00,76.78 873.47,76.85 873.47,76.85 873.51,76.78 872.84,76.45 872.84,76.45 873.51,76.56 873.92,76.61 874.19,76.94 874.46,76.96 874.98,77.00 875.51,77.02 876.05,77.03 877.22,76.99 878.14,76.89 878.40,76.55 879.20,76.39 880.05,76.13 880.81,75.80 881.47,75.40 882.03,74.94 882.48,74.41 882.83,73.81 883.09,73.14 883.24,72.40 883.29,71.58 883.26,70.83 883.15,70.16ZM879.95,82.06 880.42,82.07 880.85,82.12 881.26,82.20 881.63,82.31 881.96,82.46 882.25,82.65 882.50,82.87 882.70,83.12 882.87,83.40 882.98,83.70 883.05,84.02 883.07,84.37 883.02,85.01 882.89,85.48 882.64,85.25 882.57,85.51 882.32,86.01 881.96,86.46 881.51,86.88 880.95,87.24 880.31,87.56 879.57,87.81 878.75,88.01 877.85,88.16 876.86,88.24 875.79,88.27 874.97,88.25 874.22,88.20 873.55,88.12 872.95,87.99 872.43,87.84 871.97,87.65 871.59,87.42 871.28,87.14 871.04,86.82 870.87,86.46 870.76,86.05 870.73,85.60 870.74,85.33 870.79,85.05 870.86,84.77 870.97,84.48 871.10,84.18 871.26,83.88 871.45,83.58 871.65,83.30 871.87,83.04 872.11,82.79 872.36,82.57 872.64,82.36 873.38,82.36 873.77,82.06ZM872.01,73.56 871.87,72.96 871.78,72.30 871.75,71.58 871.78,70.86 871.87,70.20 872.01,69.61 872.09,69.40 872.30,69.61 872.35,69.57 872.49,69.21 872.74,68.79 873.04,68.44 873.40,68.15 873.82,67.91 874.30,67.73 874.85,67.60 875.46,67.52 876.13,67.49 876.79,67.52 877.39,67.60 877.93,67.73 878.40,67.91 878.81,68.14 879.16,68.43 879.45,68.78 879.68,69.20 879.82,69.56 879.88,69.61 880.08,69.41 880.15,69.60 880.29,70.19 880.37,70.85 880.40,71.58 880.37,72.27 880.30,72.92 880.16,73.50 880.08,73.72 879.84,73.50 879.69,73.91 879.47,74.35 879.19,74.72 878.85,75.04 878.44,75.30 877.96,75.50 877.40,75.65 876.78,75.73 876.09,75.76 875.42,75.74 874.81,75.65 874.27,75.51 873.79,75.32 873.37,75.07 873.02,74.77 872.72,74.40 872.48,73.97 872.34,73.59 872.32,73.57 872.09,73.78ZM870.46,86.06 870.47,86.06 870.46,86.06Z"/>
<path fill-rule="evenodd" d="M905.72,65.10 905.18,65.12 904.59,65.19 904.21,65.25 904.14,64.96 903.87,65.00 903.14,65.16 902.34,65.37 901.48,65.62 901.05,65.75 901.13,66.04 900.72,66.17 900.44,66.27 900.40,65.97 899.83,66.17 899.10,66.45 898.42,66.73 897.81,67.02 897.26,67.32 897.20,66.84 896.92,66.99 896.76,65.54 893.44,65.54 893.44,65.24 889.90,65.24 889.90,66.04 892.99,66.48 892.99,66.94 893.29,66.98 893.29,80.16 892.99,80.20 892.99,80.66 889.90,81.10 889.90,81.90 893.44,81.90 893.44,81.60 896.86,81.60 896.86,81.90 901.50,81.90 901.50,81.10 897.31,80.66 897.31,80.21 897.01,80.18 897.01,68.77 897.31,68.69 897.31,68.22 897.76,68.09 898.23,67.98 898.73,67.87 899.26,67.77 899.81,67.67 900.39,67.59 900.97,67.52 901.53,67.46 902.05,67.41 902.55,67.38 903.03,67.36 903.47,67.35 903.80,67.78 904.17,67.76 905.13,69.00 905.80,69.00 905.80,65.10Z"/>
<path fill-rule="evenodd" d="M728.53,121.76 729.93,121.60 731.19,121.32 732.33,120.94 733.35,120.46 734.23,119.87 734.99,119.18 735.60,118.39 736.08,117.51 736.42,116.52 736.63,115.42 736.70,114.23 736.42,112.04 735.62,110.27 734.27,108.90 732.36,107.91 729.87,107.30 728.63,107.22 728.74,106.93 726.80,106.80 723.42,106.80 723.42,107.10 720.32,107.10 720.32,106.80 716.30,106.80 716.30,107.80 719.87,108.28 719.87,108.74 720.17,108.78 720.17,130.00 719.87,130.04 719.87,130.50 716.57,131.00 716.57,132.00 720.32,132.00 720.32,131.70 723.42,131.70 723.42,132.00 728.29,132.00 728.29,131.00 723.87,130.50 723.87,130.04 723.57,130.01 723.57,122.57 723.87,122.57 723.87,122.12 727.00,122.12 728.16,122.07 728.05,121.78ZM732.98,116.30 732.74,117.18 732.39,117.95 731.95,118.63 731.40,119.20 731.18,119.37 731.06,119.08 730.60,119.42 729.89,119.78 729.07,120.06 728.16,120.26 727.15,120.38 726.03,120.42 723.87,120.42 723.87,119.97 723.57,119.97 723.57,108.94 723.87,108.94 723.87,108.49 725.90,108.49 727.10,108.53 728.18,108.64 729.13,108.82 729.97,109.08 730.68,109.42 731.16,109.75 731.27,109.46 731.47,109.59 732.00,110.13 732.43,110.76 732.76,111.50 732.99,112.33 733.13,113.25 733.17,114.26 733.13,115.33Z"/>
<path fill-rule="evenodd" d="M742.80,117.91 764.90,117.91 764.90,116.20 742.80,116.20ZM742.80,124.80 764.90,124.80 764.90,123.09 742.80,123.09Z"/>
<path fill-rule="evenodd" d="M805.55,124.11 805.42,123.34 805.19,122.63 804.87,122.00 804.46,121.43 803.96,120.92 803.36,120.47 802.66,120.07 801.84,119.73 800.91,119.45 799.87,119.23 799.61,119.20 799.28,118.85 798.89,118.80 798.67,118.91 798.64,118.87 798.98,118.43 799.59,118.33 800.40,118.12 801.13,117.85 801.80,117.52 802.39,117.13 802.91,116.69 803.35,116.19 803.72,115.63 804.00,115.02 804.20,114.36 804.33,113.63 804.37,112.86 804.13,111.08 803.45,109.66 802.32,108.56 800.70,107.76 798.59,107.27 797.72,107.21 797.86,106.92 795.98,106.80 795.50,106.80 795.02,106.82 794.54,106.84 794.05,106.87 793.57,106.91 793.50,106.92 793.60,107.21 793.12,107.25 792.62,107.31 792.10,107.39 791.55,107.49 790.96,107.60 790.35,107.73 789.93,107.83 789.93,109.62 789.63,109.76 789.63,112.31 790.96,112.31 791.67,109.31 791.97,109.17 792.29,109.04 792.63,108.91 792.98,108.80 793.35,108.70 793.73,108.60 794.12,108.52 794.50,108.46 794.88,108.40 795.25,108.37 795.62,108.35 795.98,108.34 796.80,108.37 797.54,108.46 798.21,108.62 798.80,108.84 799.31,109.12 799.75,109.46 800.11,109.88 800.26,110.13 800.44,109.86 800.67,110.23 800.92,110.83 801.09,111.51 801.19,112.25 801.23,113.06 801.20,113.85 801.10,114.57 800.94,115.23 800.78,115.65 800.54,115.43 800.44,115.70 800.17,116.19 799.84,116.62 799.44,116.98 798.98,117.28 798.45,117.52 797.85,117.71 797.19,117.83 796.46,117.90 793.57,118.06 793.57,119.56 796.46,119.71 797.39,119.79 798.24,119.92 799.01,120.12 799.69,120.38 800.28,120.71 800.79,121.09 801.21,121.54 801.56,122.06 801.62,122.19 801.84,121.94 802.11,122.53 802.32,123.22 802.44,123.96 802.48,124.76 802.44,125.77 802.31,126.68 802.09,127.50 801.77,128.23 801.36,128.86 801.30,128.92 801.14,128.66 801.13,128.67 800.66,129.16 800.11,129.56 799.47,129.89 798.73,130.15 797.91,130.33 796.99,130.44 795.98,130.48 795.55,130.47 795.12,130.45 794.67,130.41 794.22,130.35 793.75,130.28 793.28,130.19 792.81,130.09 792.39,129.98 792.00,129.87 791.64,129.75 791.32,129.62 791.04,129.49 790.91,128.97 790.56,128.84 790.14,127.25 790.44,127.20 790.13,126.05 788.80,126.05 788.86,127.44 789.16,127.40 789.31,130.97 790.23,131.16 791.40,131.35 792.59,131.50 792.90,131.53 792.80,131.82 793.78,131.91 795.03,131.98 796.30,132.00 797.77,131.95 799.09,131.80 798.92,131.51 799.08,131.50 800.29,131.24 801.38,130.89 802.36,130.44 803.21,129.89 803.95,129.26 804.54,128.55 805.00,127.77 805.33,126.91 805.53,125.97 805.60,124.95ZM799.02,118.73 799.15,118.71 799.12,118.68Z"/>
<path fill-rule="evenodd" d="M822.64,117.28 821.54,117.23 820.99,117.25 821.11,116.94 820.45,116.97 819.36,117.10 818.26,117.32 817.18,117.63 816.09,118.02 815.00,118.50 815.03,118.00 814.72,118.13 814.80,116.88 814.80,116.80 815.10,116.84 815.27,115.45 815.53,114.12 815.64,113.72 815.34,113.66 815.58,112.83 816.02,111.73 816.54,110.77 816.91,110.26 817.10,110.50 817.37,110.14 818.02,109.49 818.74,108.99 819.54,108.63 820.40,108.41 821.34,108.34 821.65,108.35 821.96,108.37 822.29,108.40 822.64,108.45 822.99,108.51 823.36,108.59 823.72,108.67 824.06,108.76 824.37,108.85 824.65,108.95 824.91,109.05 825.14,109.16 825.84,111.67 827.16,111.67 827.16,109.60 826.86,109.46 826.86,107.84 827.16,107.90 827.16,107.44 826.19,107.25 825.22,107.08 824.25,106.96 823.88,106.93 823.84,107.22 823.30,107.17 823.39,106.88 823.28,106.87 822.31,106.82 821.34,106.80 820.37,106.84 819.43,106.97 818.79,107.12 819.00,107.38 818.62,107.46 818.08,107.65 818.24,107.55 818.12,107.32 817.68,107.47 816.87,107.84 816.09,108.30 815.36,108.84 814.69,109.46 814.07,110.15 813.51,110.91 813.01,111.76 812.56,112.68 812.17,113.67 811.93,114.48 812.21,114.59 812.15,114.79 811.91,115.88 811.89,116.03 811.59,116.00 811.44,116.99 811.33,118.22 811.30,119.51 811.37,121.45 811.57,123.23 811.90,124.85 812.27,126.02 812.56,125.96 812.64,126.21 813.12,127.25 812.86,127.41 812.96,127.62 813.69,128.78 814.55,129.76 815.52,130.57 816.61,131.19 817.82,131.64 817.89,131.65 817.98,131.46 817.59,131.23 817.91,131.35 818.60,131.49 818.39,131.76 819.15,131.91 820.60,132.00 821.87,131.94 822.48,131.85 822.32,131.66 822.42,131.56 822.98,131.47 824.00,131.20 823.71,131.37 823.81,131.56 824.11,131.48 825.08,131.08 825.93,130.56 826.69,129.92 827.33,129.18 827.86,128.34 828.27,127.41 828.48,126.68 828.20,126.56 828.27,126.31 828.42,125.39 828.72,125.40 828.74,125.24 828.80,124.02 828.75,122.91 828.59,121.90 828.33,120.98 827.97,120.14 827.51,119.40 826.94,118.75 826.27,118.19 825.51,117.74 824.66,117.38 823.71,117.13 823.71,117.13 823.59,117.41ZM818.09,129.88 817.44,129.36 816.86,128.69 816.36,127.87 815.94,126.90 815.59,125.76 815.32,124.46 815.13,123.00 815.02,121.38 814.98,119.60 816.00,119.32 817.00,119.09 817.97,118.91 818.94,118.79 819.88,118.71 820.80,118.69 821.51,118.72 822.16,118.83 822.74,119.02 823.25,119.28 823.69,119.61 824.07,120.02 824.38,120.51 824.64,121.10 824.84,121.78 824.99,122.55 825.07,123.41 825.10,124.36 825.07,125.42 824.98,126.36 824.83,127.21 824.62,127.95 824.35,128.58 824.02,129.12 823.62,129.55 823.15,129.91 822.60,130.19 821.98,130.39 821.29,130.51 820.52,130.55 819.63,130.48 818.82,130.26Z"/>
<path fill-rule="evenodd" d="M850.86,115.58 850.55,113.98 850.13,112.53 849.58,111.26 848.92,110.16 848.15,109.22 847.28,108.46 846.29,107.87 845.19,107.44 844.23,107.24 844.17,107.16 844.34,106.96 844.02,106.89 842.64,106.80 841.22,106.89 840.40,107.06 840.63,107.32 840.00,107.45 838.88,107.88 837.88,108.47 837.00,109.24 836.24,110.19 835.59,111.30 835.06,112.58 834.64,114.02 834.34,115.62 834.16,117.38 834.10,119.31 834.16,121.27 834.34,123.07 834.64,124.70 835.06,126.16 835.59,127.46 836.24,128.59 837.00,129.54 837.86,130.32 838.84,130.92 839.93,131.35 840.75,131.53 840.53,131.79 841.10,131.91 842.48,132.00 844.35,131.76 844.21,131.58 844.31,131.46 845.12,131.36 847.26,130.34 848.92,128.65 850.12,126.26 850.85,123.14 851.10,119.30 851.04,117.36ZM847.83,122.93 847.65,124.47 847.40,125.84 847.08,127.03 846.68,128.04 846.43,128.48 846.21,128.27 845.95,128.72 845.42,129.38 844.80,129.90 844.10,130.26 843.33,130.49 842.48,130.56 841.65,130.49 840.91,130.28 840.24,129.93 839.65,129.44 839.14,128.81 838.86,128.31 838.64,128.53 838.43,128.16 838.06,127.18 837.76,126.00 837.53,124.63 837.36,123.06 837.26,121.28 837.23,119.31 837.26,117.35 837.36,115.59 837.52,114.03 837.75,112.68 838.05,111.53 838.41,110.57 838.61,110.24 838.82,110.46 839.11,109.96 839.62,109.34 840.21,108.87 840.89,108.53 841.64,108.33 842.48,108.26 843.34,108.33 844.13,108.55 844.83,108.91 845.44,109.41 845.98,110.06 846.24,110.52 846.46,110.30 846.70,110.72 847.10,111.71 847.41,112.87 847.66,114.21 847.83,115.73 847.93,117.43 847.97,119.31 847.93,121.21Z"/>
<path fill-rule="evenodd" d="M861.24,129.72 861.17,129.50 861.07,129.29 860.94,129.10 860.78,128.92 860.60,128.76 860.41,128.63 860.20,128.53 859.98,128.46 859.75,128.41 859.50,128.40 859.25,128.41 859.02,128.46 858.80,128.53 858.59,128.63 858.40,128.76 858.22,128.92 858.06,129.10 857.93,129.29 857.83,129.50 857.76,129.72 857.71,129.95 857.70,130.20 857.71,130.44 857.76,130.66 857.83,130.88 857.93,131.09 858.06,131.28 858.21,131.46 858.39,131.63 858.58,131.76 858.79,131.87 859.01,131.94 859.25,131.99 859.50,132.00 859.75,131.99 859.99,131.94 860.21,131.87 860.42,131.76 860.61,131.63 860.79,131.46 860.94,131.28 861.07,131.09 861.17,130.88 861.24,130.66 861.29,130.44 861.30,130.20 861.29,129.95Z"/>
<path fill-rule="evenodd" d="M884.55,115.59 884.24,113.98 883.80,112.54 883.25,111.26 882.57,110.16 881.79,109.22 880.89,108.46 879.88,107.87 878.75,107.44 877.76,107.24 877.69,107.15 877.85,106.95 877.55,106.89 876.14,106.80 874.69,106.89 873.89,107.05 874.11,107.31 873.44,107.45 872.29,107.88 871.27,108.48 870.37,109.25 869.59,110.19 868.92,111.31 868.38,112.58 867.95,114.02 867.65,115.62 867.46,117.38 867.40,119.31 867.46,121.27 867.65,123.07 867.95,124.70 868.38,126.16 868.92,127.46 869.59,128.58 870.36,129.54 871.25,130.31 872.25,130.92 873.37,131.35 874.23,131.53 874.23,131.54 874.02,131.79 874.57,131.91 875.98,132.00 877.89,131.76 877.74,131.58 877.84,131.46 878.68,131.36 880.87,130.34 882.57,128.65 883.80,126.25 884.55,123.14 884.80,119.30 884.74,117.36ZM881.44,122.93 881.26,124.48 881.01,125.84 880.68,127.03 880.27,128.04 880.00,128.50 879.79,128.28 879.53,128.72 878.98,129.38 878.35,129.90 877.64,130.26 876.85,130.49 875.98,130.56 875.13,130.49 874.37,130.28 873.68,129.93 873.08,129.44 872.56,128.81 872.28,128.32 872.06,128.54 871.85,128.16 871.47,127.18 871.16,126.01 870.92,124.63 870.75,123.06 870.65,121.28 870.62,119.31 870.65,117.35 870.75,115.59 870.91,114.03 871.15,112.68 871.45,111.53 871.83,110.57 872.03,110.23 872.24,110.45 872.53,109.96 873.05,109.34 873.66,108.87 874.35,108.53 875.12,108.33 875.98,108.26 876.86,108.33 877.66,108.55 878.38,108.91 879.01,109.41 879.56,110.06 879.82,110.51 880.04,110.29 880.29,110.72 880.69,111.71 881.01,112.87 881.26,114.21 881.44,115.73 881.55,117.43 881.58,119.31 881.55,121.21Z"/>
<path fill-rule="evenodd" d="M124.28,648.69 124.00,647.10 123.62,645.68 123.13,644.43 122.54,643.35 121.85,642.45 121.04,641.71 120.12,641.14 119.08,640.73 117.91,640.48 116.61,640.40 115.27,640.48 114.07,640.73 113.00,641.14 112.07,641.70 111.25,642.42 110.56,643.32 109.97,644.38 109.48,645.63 109.10,647.06 108.82,648.66 108.66,650.44 108.60,652.40 108.66,654.32 108.83,656.07 109.11,657.66 109.50,659.08 110.01,660.33 110.62,661.41 111.33,662.33 112.14,663.07 113.06,663.65 114.09,664.06 115.24,664.31 116.51,664.40 117.78,664.31 118.93,664.06 119.97,663.65 120.89,663.07 121.72,662.32 122.44,661.39 123.06,660.30 123.58,659.05 123.98,657.63 124.27,656.05 124.44,654.31 124.50,652.40 124.44,650.46ZM122.04,655.50 121.86,656.85 121.61,658.05 121.28,659.11 120.87,660.04 120.38,660.84 119.79,661.50 119.10,662.02 118.33,662.39 117.47,662.61 116.54,662.69 115.61,662.62 114.75,662.40 113.97,662.04 113.29,661.53 112.70,660.88 112.20,660.10 111.80,659.18 111.47,658.12 111.22,656.91 111.05,655.55 110.94,654.05 110.90,652.40 110.94,650.70 111.04,649.17 111.22,647.79 111.47,646.58 111.79,645.52 112.19,644.62 112.68,643.85 113.28,643.22 113.98,642.72 114.77,642.37 115.65,642.16 116.61,642.10 117.55,642.17 118.41,642.38 119.19,642.74 119.87,643.24 120.45,643.88 120.93,644.66 121.32,645.57 121.63,646.63 121.87,647.84 122.04,649.20 122.14,650.72 122.18,652.40 122.14,654.02Z"/>
<path fill-rule="evenodd" d="M339.28,648.43 339.00,646.83 338.61,645.40 338.12,644.14 337.52,643.06 336.82,642.16 336.00,641.42 335.07,640.85 334.01,640.43 332.83,640.18 331.51,640.10 330.16,640.18 328.94,640.43 327.86,640.84 326.91,641.41 326.09,642.13 325.38,643.03 324.78,644.10 324.29,645.35 323.90,646.78 323.62,648.39 323.46,650.18 323.40,652.15 323.46,654.08 323.63,655.83 323.92,657.43 324.32,658.85 324.82,660.11 325.44,661.20 326.16,662.12 326.98,662.87 327.92,663.45 328.96,663.86 330.12,664.11 331.41,664.20 332.69,664.11 333.86,663.86 334.91,663.44 335.85,662.86 336.68,662.11 337.42,661.18 338.05,660.09 338.57,658.83 338.97,657.40 339.26,655.82 339.44,654.06 339.50,652.15 339.44,650.20ZM337.00,655.27 336.82,656.61 336.56,657.82 336.23,658.89 335.82,659.82 335.32,660.62 334.72,661.29 334.03,661.81 333.25,662.18 332.38,662.40 331.44,662.48 330.50,662.41 329.63,662.19 328.85,661.82 328.15,661.31 327.56,660.66 327.06,659.88 326.65,658.96 326.32,657.89 326.06,656.68 325.88,655.32 325.78,653.81 325.74,652.15 325.78,650.45 325.88,648.91 326.06,647.53 326.31,646.30 326.64,645.24 327.04,644.33 327.54,643.57 328.14,642.93 328.85,642.44 329.65,642.08 330.54,641.87 331.51,641.81 332.46,641.88 333.33,642.09 334.12,642.45 334.81,642.95 335.39,643.60 335.88,644.37 336.27,645.29 336.59,646.35 336.83,647.57 337.00,648.94 337.11,650.47 337.14,652.15 337.11,653.78Z"/>
<path fill-rule="evenodd" d="M350.70,664.20 350.70,661.40 347.20,661.40 347.20,664.20Z"/>
<path fill-rule="evenodd" d="M374.74,655.20 374.55,654.22 374.25,653.32 373.82,652.48 373.27,651.71 372.59,651.01 371.81,650.39 370.94,649.89 369.99,649.50 368.95,649.21 367.81,649.04 366.58,648.99 365.54,649.03 364.57,649.16 363.66,649.36 362.81,649.65 362.02,650.03 360.61,650.91 361.20,641.97 373.25,641.97 373.25,640.10 358.84,640.10 358.00,652.51 360.48,652.51 360.05,652.80 360.12,652.91 360.91,652.91 361.31,652.60 361.71,652.33 362.11,652.09 362.50,651.88 362.90,651.70 363.30,651.55 363.64,651.45 363.44,651.09 363.60,651.04 364.03,650.93 364.48,650.85 364.94,650.79 365.40,650.76 365.88,650.75 366.77,650.79 367.61,650.91 368.39,651.13 369.11,651.42 369.77,651.81 370.36,652.28 370.88,652.82 371.30,653.42 371.64,654.07 371.87,654.78 372.01,655.53 372.06,656.32 372.01,657.22 371.87,658.06 371.64,658.84 371.32,659.56 370.90,660.22 370.38,660.80 369.79,661.30 369.12,661.72 368.38,662.04 367.59,662.26 366.72,662.39 365.80,662.44 364.34,662.33 363.06,662.01 361.96,661.46 361.05,660.69 360.35,659.70 359.99,658.83 357.31,659.11 357.43,659.54 357.75,660.33 358.16,661.04 358.66,661.69 359.24,662.26 359.92,662.77 360.68,663.20 361.52,663.56 362.45,663.84 363.46,664.04 364.55,664.16 365.72,664.20 367.12,664.14 368.40,663.96 369.57,663.66 370.63,663.25 371.58,662.72 372.42,662.07 373.15,661.32 373.74,660.49 374.20,659.57 374.53,658.56 374.73,657.46 374.80,656.25Z"/>
<path fill-rule="evenodd" d="M584.40,664.40 584.40,662.50 581.19,662.50 581.19,662.10 580.64,662.10 580.64,639.90 578.63,639.90 574.60,643.95 574.60,646.95 578.45,642.94 578.45,662.10 577.90,662.10 577.90,662.50 574.50,662.50 574.50,664.40Z"/>
<path fill-rule="evenodd" d="M796.60,664.60 796.60,662.65 791.86,662.65 791.86,640.10 790.31,640.10 790.31,639.70 789.97,639.70 785.37,643.81 785.73,644.22 785.77,644.19 785.77,645.95 790.11,641.92 790.16,641.97 790.16,662.65 785.20,662.65 785.20,664.60Z"/>
<path fill-rule="evenodd" d="M808.50,664.60 808.50,661.40 805.40,661.40 805.40,664.60Z"/>
<path fill-rule="evenodd" d="M831.54,655.44 831.37,654.44 831.09,653.52 830.69,652.67 830.18,651.89 829.55,651.17 828.84,650.55 828.04,650.04 827.17,649.64 826.21,649.36 825.16,649.19 824.03,649.13 823.08,649.17 822.19,649.30 821.36,649.51 820.58,649.80 819.86,650.18 818.49,651.11 819.04,642.01 830.16,642.01 830.16,640.10 816.92,640.10 816.14,652.72 818.25,652.72 818.22,653.12 818.80,653.12 819.17,652.81 819.53,652.53 819.90,652.29 820.27,652.07 820.64,651.89 821.01,651.74 821.38,651.61 821.42,651.60 821.20,651.25 821.26,651.23 821.67,651.12 822.08,651.04 822.51,650.98 822.94,650.94 823.39,650.93 824.22,650.97 825.00,651.10 825.73,651.32 826.40,651.63 827.01,652.02 827.57,652.50 828.04,653.05 828.44,653.66 828.74,654.32 828.96,655.03 829.08,655.79 829.13,656.59 829.08,657.50 828.96,658.35 828.75,659.14 828.45,659.86 828.06,660.53 827.58,661.12 827.03,661.64 826.41,662.06 825.73,662.38 824.98,662.62 824.18,662.75 823.31,662.80 821.96,662.69 820.76,662.36 819.73,661.80 818.89,661.01 818.25,660.01 817.92,659.13 815.50,659.41 815.61,659.87 815.91,660.68 816.29,661.41 816.75,662.06 817.29,662.64 817.91,663.15 818.61,663.59 819.39,663.95 820.24,664.23 821.16,664.44 822.17,664.56 823.24,664.60 824.53,664.54 825.70,664.36 826.78,664.06 827.75,663.64 828.62,663.10 829.40,662.45 830.07,661.69 830.62,660.84 831.04,659.91 831.35,658.87 831.54,657.75 831.60,656.52Z"/>
<path fill-rule="evenodd" d="M1042.80,665.50 1042.80,663.52 1028.94,663.52 1029.42,662.51 1029.68,662.05 1029.97,661.59 1030.31,661.13 1030.68,660.67 1031.09,660.20 1031.55,659.73 1032.05,659.23 1032.60,658.72 1033.19,658.19 1033.84,657.64 1034.53,657.08 1035.75,656.10 1036.83,655.20 1037.77,654.40 1038.57,653.69 1039.22,653.08 1039.74,652.55 1040.16,652.08 1040.55,651.60 1040.90,651.12 1041.22,650.65 1041.50,650.18 1041.73,649.71 1041.94,649.24 1042.10,648.78 1042.23,648.31 1042.32,647.85 1042.37,647.38 1042.39,646.92 1042.34,645.89 1042.17,644.94 1041.89,644.09 1041.51,643.32 1041.01,642.64 1040.41,642.03 1039.70,641.51 1038.89,641.08 1037.97,640.74 1036.95,640.50 1035.83,640.35 1034.60,640.30 1033.47,640.35 1032.42,640.50 1031.44,640.74 1030.54,641.07 1029.72,641.51 1028.96,642.03 1028.29,642.64 1027.72,643.31 1027.25,644.04 1026.88,644.84 1026.61,645.71 1026.52,646.25 1028.94,646.47 1028.83,646.86 1029.46,646.92 1029.57,646.26 1029.75,645.65 1029.99,645.09 1030.21,644.71 1029.80,644.62 1029.96,644.36 1030.36,643.86 1030.83,643.42 1031.35,643.04 1031.92,642.73 1032.53,642.49 1033.18,642.32 1033.87,642.22 1034.60,642.19 1035.35,642.22 1036.06,642.33 1036.72,642.50 1037.33,642.75 1037.88,643.07 1038.37,643.46 1038.80,643.92 1039.15,644.44 1039.42,645.01 1039.61,645.63 1039.72,646.31 1039.76,647.02 1039.74,647.57 1039.68,648.10 1039.57,648.61 1039.41,649.10 1039.22,649.58 1038.98,650.03 1038.71,650.46 1038.41,650.88 1038.09,651.29 1037.75,651.69 1037.38,652.09 1036.99,652.48 1036.58,652.86 1036.15,653.24 1035.71,653.62 1035.25,654.00 1034.78,654.38 1034.29,654.76 1033.80,655.14 1033.31,655.53 1032.82,655.93 1032.33,656.34 1031.83,656.76 1031.34,657.19 1030.85,657.63 1030.37,658.09 1029.89,658.57 1029.43,659.06 1028.97,659.57 1028.52,660.09 1028.08,660.63 1027.68,661.20 1027.29,661.80 1026.93,662.42 1026.59,663.07 1026.30,663.68 1026.30,665.50Z"/></g>
</svg>
</body></html>
